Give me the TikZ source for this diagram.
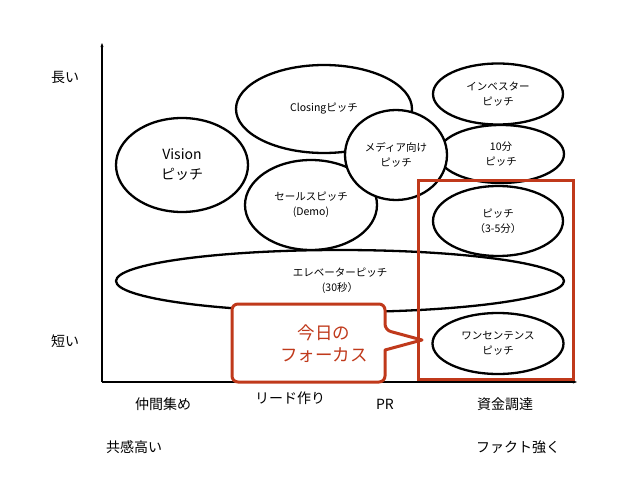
\documentclass[tikz,border=0pt]{standalone}
\usepackage{fontspec}
\setmainfont{Noto Sans CJK JP}
\usetikzlibrary{shapes.geometric,arrows.meta}
\definecolor{focusred}{RGB}{192,57,27}
\tikzset{
  bub/.style={ellipse, draw=black, line width=2.3pt, fill=white, inner sep=0pt, align=center, font=\fontsize{10.5}{15}\selectfont},
  lbl/.style={font=\fontsize{14}{17}\selectfont, inner sep=0pt},
  axis/.style={line width=1.2pt, -{Stealth[length=4pt,width=3pt]}}
}
\begin{document}
\begin{tikzpicture}[x=1pt,y=-1pt]
\useasboundingbox (0,0) rectangle (638,479);
% axes
\coordinate (o) at (102,382);
\coordinate (ytop) at (102,43);
\coordinate (xend) at (577,382);
\draw[axis] (o) -- (ytop);
\draw[axis] (o) -- (xend);
% ellipses
\node[bub, minimum width=176pt, minimum height=88pt] (closing) at (324,109) {Closingピッチ};
\node[bub, minimum width=132pt, minimum height=90pt] (sales) at (311,205) {セールスピッチ\\(Demo)};
\node[bub, minimum width=126pt, minimum height=58pt] (ten) at (501,154) {10分\\ピッチ};
\node[bub, minimum width=102pt, minimum height=90pt] (media) at (396,155) {メディア向け\\ピッチ};
\node[bub, minimum width=130pt, minimum height=61pt] (investor) at (498,94) {インベスター\\ピッチ};
\node[bub, minimum width=132pt, minimum height=94pt, font=\fontsize{14}{20}\selectfont] (vision) at (182,165) {Vision\\ピッチ};
\node[bub, minimum width=130pt, minimum height=70pt] (pitch) at (498,221) {ピッチ\\（3-5分）};
\node[bub, minimum width=448pt, minimum height=62pt] (elevator) at (340,281) {エレベーターピッチ\\(30秒）};
\node[bub, minimum width=131pt, minimum height=61pt] (one) at (498,343.5) {ワンセンテンス\\ピッチ};
% focus rectangle
\node[draw=focusred, line width=3pt, minimum width=155pt, minimum height=199pt, inner sep=0pt] (focus) at (495.5,279.5) {};
% callout
\coordinate (tip) at (422,340);
\draw[focusred, line width=3pt, fill=white, rounded corners=6pt, line join=round]
  (232,304) -- (385,304) -- (385,330) [sharp corners] -- (tip) -- (385,350) [rounded corners=6pt] -- (385,382) -- (232,382) -- cycle;
\node[text=focusred, align=center, font=\fontsize{17.5}{22}\selectfont, inner sep=0pt] (calltext) at (324,344) {今日の\\フォーカス};
% labels
\node[lbl] (long) at (65,77) {長い};
\node[lbl] (short) at (65,341) {短い};
\node[lbl] (x1) at (163,404) {仲間集め};
\node[lbl] (x2) at (290,398) {リード作り};
\node[lbl] (x3) at (385,404) {PR};
\node[lbl] (x4) at (505,404) {資金調達};
\node[lbl] (b1) at (134,447) {共感高い};
\node[lbl] (b2) at (518,447) {ファクト強く};
\end{tikzpicture}
\end{document}
